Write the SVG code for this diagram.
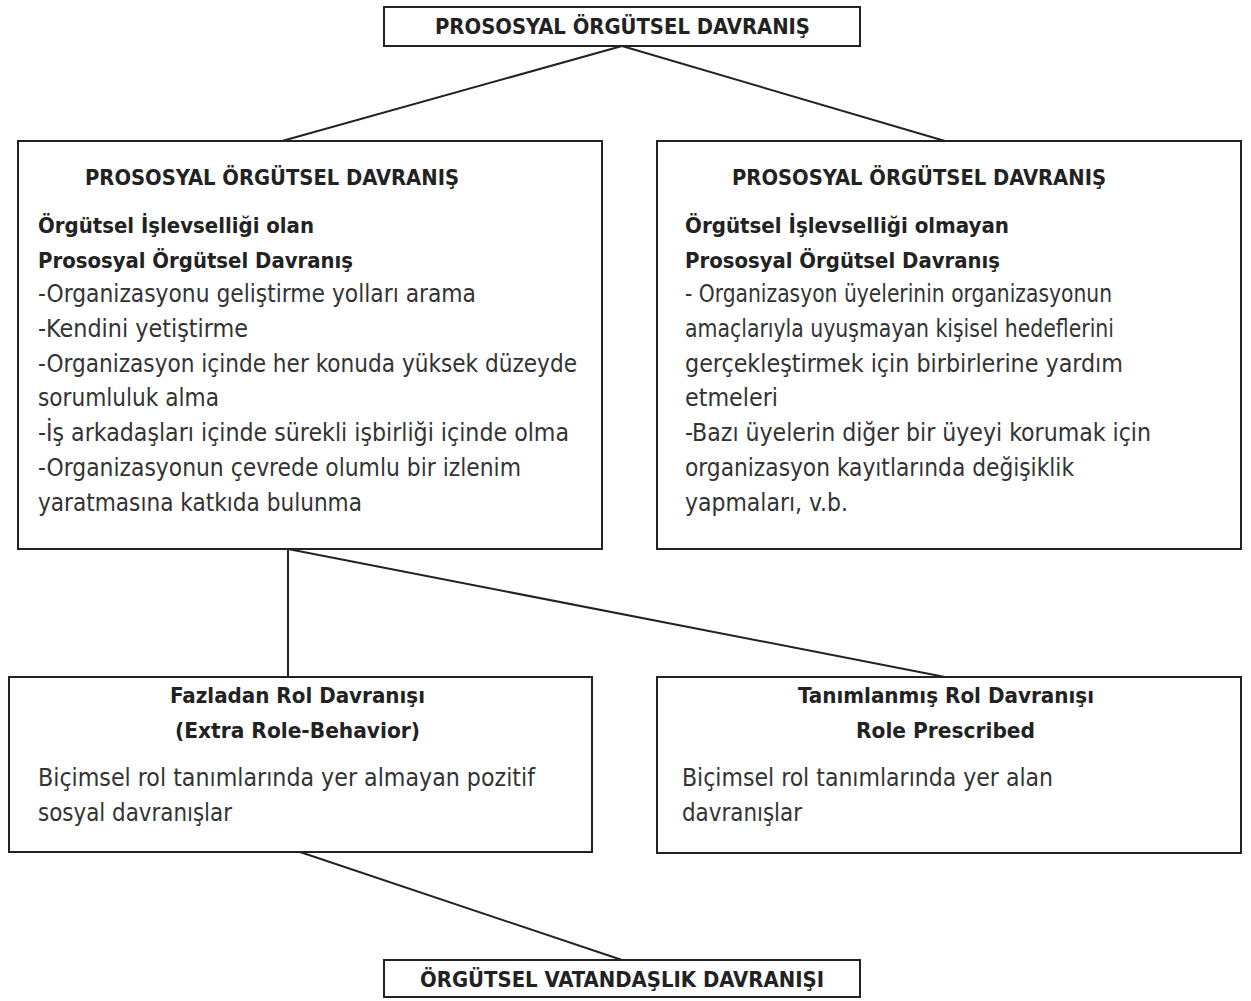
<svg xmlns="http://www.w3.org/2000/svg" width="1251" height="1001" viewBox="0 0 1251 1001">
<style>
.box{fill:#fff;stroke:#222;stroke-width:2}
.ln{stroke:#222;stroke-width:2;fill:none}
text{font-family:"DejaVu Sans Condensed","DejaVu Sans",sans-serif;font-size:22px;fill:#222}
.b{font-weight:bold}
.r{fill:#333;font-size:24px}
</style>
<rect width="1251" height="1001" fill="#fff"/>
<g id="connectors">
<line class="ln" x1="622" y1="46" x2="282" y2="141"/>
<line class="ln" x1="622" y1="46" x2="945" y2="141"/>
<line class="ln" x1="288" y1="549" x2="288" y2="677"/>
<line class="ln" x1="288" y1="549" x2="945" y2="677"/>
<line class="ln" x1="300" y1="852" x2="622" y2="960"/>
</g>
<g id="top">
<rect class="box" x="384" y="7" width="476" height="39"/>
<text class="b" x="435" y="34" textLength="375" lengthAdjust="spacingAndGlyphs">PROSOSYAL ÖRGÜTSEL DAVRANIŞ</text>
</g>
<g id="left">
<rect class="box" x="18" y="141" width="584" height="408"/>
<text class="b" x="85" y="185" textLength="374" lengthAdjust="spacingAndGlyphs">PROSOSYAL ÖRGÜTSEL DAVRANIŞ</text>
<text class="b" x="38" y="233" textLength="276" lengthAdjust="spacingAndGlyphs">Örgütsel İşlevselliği olan</text>
<text class="b" x="38" y="268" textLength="315" lengthAdjust="spacingAndGlyphs">Prososyal Örgütsel Davranış</text>
<text class="r" x="38" y="302" textLength="438" lengthAdjust="spacingAndGlyphs">-Organizasyonu geliştirme yolları arama</text>
<text class="r" x="38" y="337" textLength="210" lengthAdjust="spacingAndGlyphs">-Kendini yetiştirme</text>
<text class="r" x="38" y="372" textLength="539" lengthAdjust="spacingAndGlyphs">-Organizasyon içinde her konuda yüksek düzeyde</text>
<text class="r" x="38" y="406" textLength="181" lengthAdjust="spacingAndGlyphs">sorumluluk alma</text>
<text class="r" x="38" y="441" textLength="531" lengthAdjust="spacingAndGlyphs">-İş arkadaşları içinde sürekli işbirliği içinde olma</text>
<text class="r" x="38" y="476" textLength="483" lengthAdjust="spacingAndGlyphs">-Organizasyonun çevrede olumlu bir izlenim</text>
<text class="r" x="38" y="511" textLength="324" lengthAdjust="spacingAndGlyphs">yaratmasına katkıda bulunma</text>
</g>
<g id="right">
<rect class="box" x="657" y="141" width="584" height="408"/>
<text class="b" x="732" y="185" textLength="374" lengthAdjust="spacingAndGlyphs">PROSOSYAL ÖRGÜTSEL DAVRANIŞ</text>
<text class="b" x="685" y="233" textLength="324" lengthAdjust="spacingAndGlyphs">Örgütsel İşlevselliği olmayan</text>
<text class="b" x="685" y="268" textLength="315" lengthAdjust="spacingAndGlyphs">Prososyal Örgütsel Davranış</text>
<text class="r" x="685" y="302" textLength="427" lengthAdjust="spacingAndGlyphs">- Organizasyon üyelerinin organizasyonun</text>
<text class="r" x="685" y="337" textLength="429" lengthAdjust="spacingAndGlyphs">amaçlarıyla uyuşmayan kişisel hedeflerini</text>
<text class="r" x="685" y="372" textLength="438" lengthAdjust="spacingAndGlyphs">gerçekleştirmek için birbirlerine yardım</text>
<text class="r" x="685" y="406" textLength="93" lengthAdjust="spacingAndGlyphs">etmeleri</text>
<text class="r" x="685" y="441" textLength="466" lengthAdjust="spacingAndGlyphs">-Bazı üyelerin diğer bir üyeyi korumak için</text>
<text class="r" x="685" y="476" textLength="389" lengthAdjust="spacingAndGlyphs">organizasyon kayıtlarında değişiklik</text>
<text class="r" x="685" y="511" textLength="163" lengthAdjust="spacingAndGlyphs">yapmaları, v.b.</text>
</g>
<g id="extra">
<rect class="box" x="9" y="677" width="583" height="175"/>
<text class="b" x="170" y="703" textLength="255" lengthAdjust="spacingAndGlyphs">Fazladan Rol Davranışı</text>
<text class="b" x="175" y="738" textLength="245" lengthAdjust="spacingAndGlyphs">(Extra Role-Behavior)</text>
<text class="r" x="38" y="786" textLength="497" lengthAdjust="spacingAndGlyphs">Biçimsel rol tanımlarında yer almayan pozitif</text>
<text class="r" x="38" y="821" textLength="194" lengthAdjust="spacingAndGlyphs">sosyal davranışlar</text>
</g>
<g id="prescribed">
<rect class="box" x="657" y="677" width="584" height="176"/>
<text class="b" x="798" y="703" textLength="296" lengthAdjust="spacingAndGlyphs">Tanımlanmış Rol Davranışı</text>
<text class="b" x="856" y="738" textLength="179" lengthAdjust="spacingAndGlyphs">Role Prescribed</text>
<text class="r" x="682" y="786" textLength="371" lengthAdjust="spacingAndGlyphs">Biçimsel rol tanımlarında yer alan</text>
<text class="r" x="682" y="821" textLength="120" lengthAdjust="spacingAndGlyphs">davranışlar</text>
</g>
<g id="ocb">
<rect class="box" x="384" y="960" width="476" height="37"/>
<text class="b" x="420" y="987" textLength="404" lengthAdjust="spacingAndGlyphs">ÖRGÜTSEL VATANDAŞLIK DAVRANIŞI</text>
</g>
</svg>
